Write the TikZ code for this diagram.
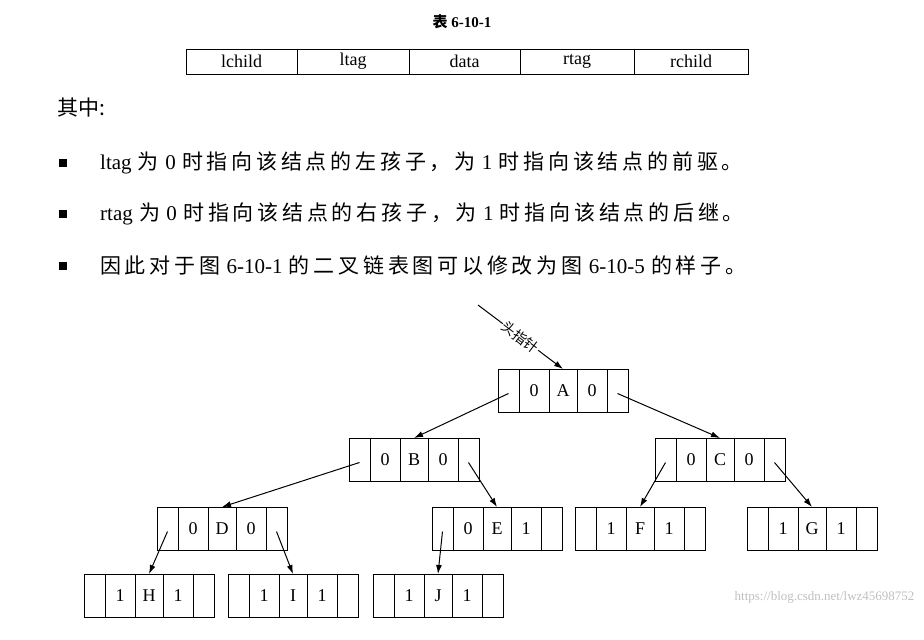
\documentclass[tikz,border=0pt]{standalone}
\usepackage{fontspec}
\usetikzlibrary{arrows.meta}
\setmainfont{Liberation Serif}
\newfontfamily\cjk{Noto Sans CJK SC}
\newfontfamily\cjkw[LetterSpace=18]{Noto Sans CJK SC}
\newcommand\zh[1]{{\cjkw #1}}
\tikzset{
  cell/.style={draw,line width=1pt,outer sep=0pt,minimum height=43pt,inner sep=0pt,font=\fontsize{18}{18}\selectfont},
  hcell/.style={draw,line width=1pt,outer sep=0pt,minimum height=25pt,inner sep=0pt,font=\fontsize{18}{18}\selectfont},
  link/.style={-{Latex[length=9pt,width=6pt]},line width=1pt},
  body/.style={anchor=west,inner sep=0pt,font=\fontsize{21}{21}\selectfont},
  bul/.style={fill,minimum size=8pt,inner sep=0pt}
}
\newcommand\tnode[6]{%
  \node[cell,minimum width=21pt,anchor=north west] (#1a) at (#2,#3) {};
  \node[cell,minimum width=30pt,anchor=north west] (#1b) at (#1a.north east) {#4};
  \node[cell,minimum width=28pt,anchor=north west] (#1c) at (#1b.north east) {#5};
  \node[cell,minimum width=30pt,anchor=north west] (#1d) at (#1c.north east) {#6};
  \node[cell,minimum width=21pt,anchor=north west] (#1e) at (#1d.north east) {};
}
\newcommand\gp{\hspace{0.3em}}
\begin{document}
\begin{tikzpicture}[x=1pt,y=-1pt]
\useasboundingbox (0,0) rectangle (924,640);
\node[font=\fontsize{15}{15}\selectfont\bfseries] (title) at (462,22) {{\cjk\bfseries 表} 6-10-1};
\node[hcell,minimum width=111pt,anchor=north west] (h1) at (186,49) {lchild};
\node[hcell,minimum width=112pt,anchor=north west] (h2) at (h1.north east) {ltag};
\node[hcell,minimum width=111pt,anchor=north west] (h3) at (h2.north east) {data};
\node[hcell,minimum width=114pt,anchor=north west] (h4) at (h3.north east) {rtag};
\node[hcell,minimum width=114pt,anchor=north west] (h5) at (h4.north east) {rchild};
\node[body] (qz) at (57,108) {{\cjk 其中:}};
\node[bul] (b1) at (63,163) {};
\node[body] (t1) at (100,163) {ltag\gp\zh{为}\gp 0\gp\zh{时指向该结点的左孩子，为}\gp 1\gp\zh{时指向该结点的前驱。}};
\node[bul] (b2) at (63,214) {};
\node[body] (t2) at (100,214) {rtag\gp\zh{为}\gp 0\gp\zh{时指向该结点的右孩子，为}\gp 1\gp\zh{时指向该结点的后继。}};
\node[bul] (b3) at (63,266) {};
\node[body] (t3) at (100,266) {\zh{因此对于图}\gp 6-10-1\gp\zh{的二叉链表图可以修改为图}\gp 6-10-5\gp\zh{的样子。}};
\tnode{A}{498}{369}{0}{A}{0}
\tnode{B}{349}{438}{0}{B}{0}
\tnode{C}{655}{438}{0}{C}{0}
\tnode{D}{157}{507}{0}{D}{0}
\tnode{E}{432}{507}{0}{E}{1}
\tnode{F}{575}{507}{1}{F}{1}
\tnode{G}{747}{507}{1}{G}{1}
\tnode{H}{84}{574}{1}{H}{1}
\tnode{I}{228}{574}{1}{I}{1}
\tnode{J}{373}{574}{1}{J}{1}
\coordinate (hp) at (478,305);
\draw[link] (hp) -- node[sloped,fill=white,inner sep=1pt,font=\cjk\fontsize{14}{14}\selectfont] {头指针} (Ac.north);
\draw[link] ([yshift=-3pt]Aa.center) -- (Bc.north);
\draw[link] ([yshift=-3pt]Ae.center) -- (Cc.north);
\draw[link] ([yshift=-3pt]Ba.center) -- (Dc.north);
\draw[link] ([yshift=-3pt]Be.center) -- (Ec.north);
\draw[link] ([yshift=-3pt]Ca.center) -- (Fc.north);
\draw[link] ([yshift=-3pt]Ce.center) -- (Gc.north);
\draw[link] ([yshift=-3pt]Da.center) -- (Hc.north);
\draw[link] ([yshift=-3pt]De.center) -- (Ic.north);
\draw[link] ([yshift=-3pt]Ea.center) -- (Jc.north);
\node[anchor=east,text=gray!50,font=\fontsize{13}{13}\selectfont] (wm) at (918,597) {https://blog.csdn.net/lwz45698752};
\end{tikzpicture}
\end{document}
